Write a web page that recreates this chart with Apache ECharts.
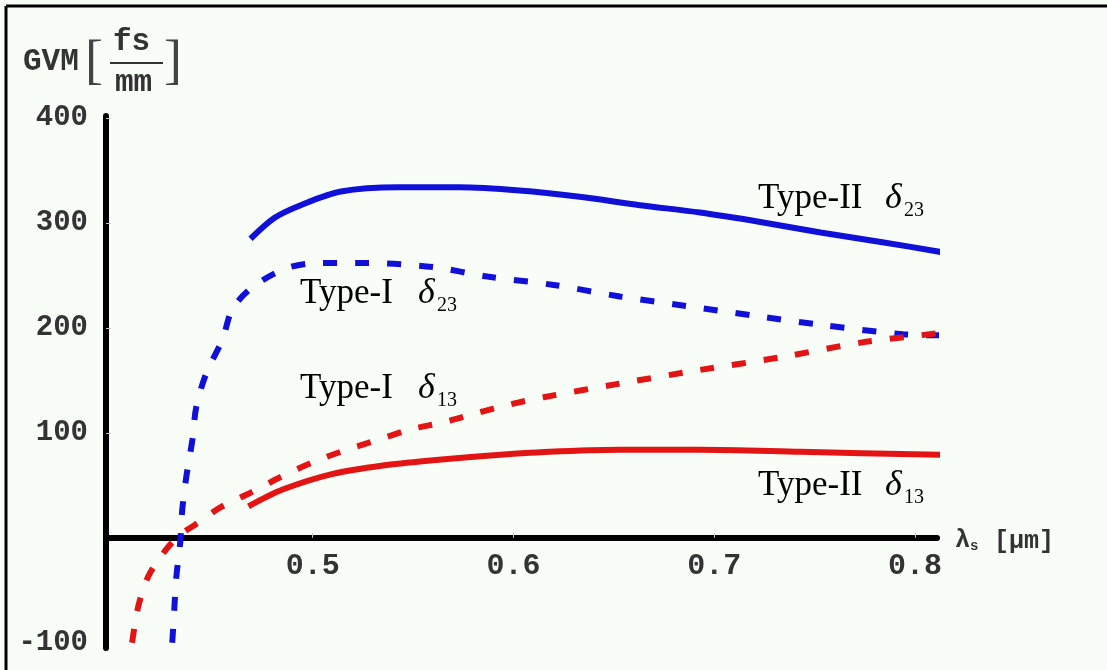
<!DOCTYPE html>
<html>
<head>
<meta charset="utf-8">
<script src="https://cdn.jsdelivr.net/npm/echarts@6/dist/echarts.min.js"></script>
<style>
html,body{margin:0;padding:0;background:#f8fdf8;}
#c{width:1107px;height:670px;}
</style>
</head>
<body>
<div id="c"></div>
<script>
// wavelength (µm), GVM (fs/mm)
const typeII_d23 = [[0.469,285],[0.481,305],[0.494,317],[0.514,330],[0.543,334],[0.573,334],[0.603,331],[0.633,325],[0.663,317],[0.693,310],[0.723,301],[0.753,291],[0.783,282],[0.814,272]];
const typeI_d23 = [[0.430,-100],[0.431,-69],[0.432,-38],[0.434,-4],[0.435,27],[0.437,58],[0.440,93],[0.442,125],[0.447,157],[0.455,189],[0.460,218],[0.470,239],[0.487,257],[0.504,262],[0.527,262],[0.560,258],[0.587,249],[0.620,241],[0.653,230],[0.686,221],[0.719,212],[0.753,203],[0.794,194],[0.812,193]];
const typeI_d13 = [[0.410,-100],[0.413,-66],[0.418,-37],[0.427,-11],[0.434,3],[0.441,12],[0.454,29],[0.469,43],[0.484,58],[0.500,72],[0.517,84],[0.532,93],[0.548,103],[0.565,110],[0.582,119],[0.598,127],[0.615,134],[0.653,147],[0.693,160],[0.733,172],[0.773,186],[0.812,195]];
const typeII_d13 = [[0.468,30],[0.485,46],[0.510,61],[0.535,69],[0.560,74],[0.585,78],[0.618,82],[0.653,84],[0.693,84],[0.743,82],[0.814,79]];
const xTicks = [0.5,0.6,0.7,0.8];
const yTicks = [-100,100,200,300,400];

const BLUE = '#1010d8', RED = '#e31414';
const mono = '"Liberation Mono", "DejaVu Sans Mono", monospace';
const serif = '"Liberation Serif", "DejaVu Serif", serif';

const Y_MIN = -105, Y_MAX = 402, GRID_TOP = 116, GRID_H = 532;
// distance from grid bottom up to the y=0 line
const zeroOffset = -GRID_H * (0 - Y_MIN) / (Y_MAX - Y_MIN);

function lbl(x, base, main, sub, dx) {
  return [
    {type:'text', left:x, top:base-27, style:{text:main, font:'35px '+serif, fill:'#000'}},
    {type:'text', left:x+dx, top:base-27, style:{text:'δ', font:'italic 36px '+serif, fill:'#000'}},
    {type:'text', left:x+dx+19, top:base-7, style:{text:sub, font:'20px '+serif, fill:'#000'}}
  ];
}

const chart = echarts.init(document.getElementById('c'));
chart.setOption({
  backgroundColor:'#f8fdf8',
  animation:false,
  grid:{left:106, top:GRID_TOP, width:831, height:GRID_H, containLabel:false, outerBoundsMode:'none'},
  xAxis:{
    type:'value', min:0.397, max:0.811, position:'bottom', offset:zeroOffset,
    axisLine:{onZero:false, lineStyle:{color:'#000', width:6}},
    axisTick:{show:true, inside:true, length:5, customValues:xTicks, lineStyle:{color:'#c8c8c8', width:1}},
    axisLabel:{customValues:xTicks, formatter:v=>v.toFixed(1), fontFamily:mono, fontWeight:'bold', fontSize:30, color:'#333', margin:14},
    splitLine:{show:false}
  },
  yAxis:{
    type:'value', min:Y_MIN, max:Y_MAX,
    axisLine:{lineStyle:{color:'#000', width:6}},
    axisTick:{show:true, inside:true, length:5, customValues:yTicks.filter(v=>v!==-100), lineStyle:{color:'#c8c8c8', width:1}},
    axisLabel:{customValues:yTicks, formatter:v=>String(v), fontFamily:mono, fontWeight:'bold', fontSize:29, color:'#333', margin:18},
    splitLine:{show:false}
  },
  series:[
    {type:'line', data:typeII_d23, symbol:'none', smooth:0.3, lineStyle:{color:BLUE, width:6}},
    {type:'line', data:typeI_d23, symbol:'none', smooth:0.3, lineStyle:{color:BLUE, width:6, type:[14,18], cap:'butt'}},
    {type:'line', data:typeI_d13, symbol:'none', smooth:0.3, lineStyle:{color:RED, width:6, type:[14,18], cap:'butt'}},
    {type:'line', data:typeII_d13, symbol:'none', smooth:0.3, lineStyle:{color:RED, width:6}}
  ],
  graphic:[
    {type:'line', shape:{x1:6,y1:6,x2:1107,y2:6}, style:{stroke:'#000', lineWidth:3}},
    {type:'line', shape:{x1:6,y1:6,x2:6,y2:670}, style:{stroke:'#000', lineWidth:3}},
    // y axis title
    {type:'text', left:23, top:47, style:{text:'GVM', font:'bold 31px '+mono, fill:'#333'}},
    {type:'text', left:85, top:37, style:{text:'[', font:'54px '+serif, fill:'#444'}},
    {type:'text', left:113, top:27, style:{text:'fs', font:'bold 31px '+mono, fill:'#333'}},
    {type:'line', shape:{x1:110,y1:63,x2:163,y2:63}, style:{stroke:'#333', lineWidth:2}},
    {type:'text', left:115, top:68, style:{text:'mm', font:'bold 31px '+mono, fill:'#333'}},
    {type:'text', left:164, top:37, style:{text:']', font:'54px '+serif, fill:'#444'}},
    // x axis title
    {type:'text', left:955, top:528, style:{text:'λ', font:'bold 25px '+mono, fill:'#333'}},
    {type:'text', left:970, top:539, style:{text:'s', font:'bold 14px '+mono, fill:'#333'}},
    {type:'text', left:994, top:529, style:{text:'[μm]', font:'bold 25px '+mono, fill:'#333'}},
    ...lbl(758, 208, 'Type-II', '23', 127),
    ...lbl(300, 303, 'Type-I', '23', 118),
    ...lbl(300, 398, 'Type-I', '13', 118),
    ...lbl(758, 495, 'Type-II', '13', 127)
  ]
});
</script>
</body>
</html>
